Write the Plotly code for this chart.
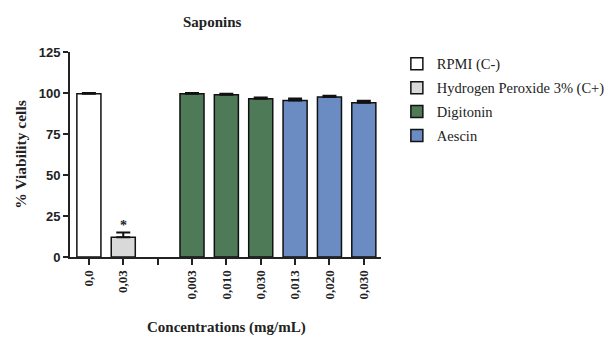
import plotly.graph_objects as go

positions = [0, 1, 2, 3, 4, 5, 6, 7, 8]
tick_labels = ["0,0", "0,03", "", "0,003", "0,010", "0,030", "0,013", "0,020", "0,030"]

series_names = ["RPMI (C-)", "Hydrogen Peroxide 3% (C+)", "Digitonin", "Aescin"]
series_x = [[0], [1], [3, 4, 5], [6, 7, 8]]
series_values = [[99.5], [12.0], [99.5, 99.0, 96.5], [95.5, 97.5, 94.0]]
series_errors = [[0.5], [3.0], [0.5, 0.5, 0.8], [1.2, 0.8, 1.2]]
series_colors = ["#ffffff", "#d9d9d9", "#4f7a57", "#6b8bc3"]

star_x = 1
star_y = 19

fig = go.Figure()
for i, (name, xs, ys, es, col) in enumerate(zip(series_names, series_x, series_values, series_errors, series_colors)):
    fig.add_trace(go.Bar(
        x=xs, y=ys, name=name, width=0.7, legendgroup="g%d" % i,
        marker=dict(color=col, line=dict(color="#111111", width=1.5)),
        error_y=dict(type="data", symmetric=False, array=es, arrayminus=[0] * len(es),
                     color="#111111", thickness=2, width=7),
    ))

fig.add_annotation(x=star_x, y=star_y, text="<b>*</b>", showarrow=False,
                   font=dict(family="Liberation Serif", size=14, color="#222"))

fig.add_annotation(xref="paper", yref="paper", x=0.457, y=1.0, xanchor="center", yanchor="middle",
                   yshift=30, text="<b>Saponins</b>",
                   showarrow=False, font=dict(family="Liberation Serif", size=15, color="#222"))
fig.add_annotation(xref="paper", yref="paper", x=0.503, y=0, xanchor="center", yanchor="middle",
                   yshift=-70, text="<b>Concentrations (mg/mL)</b>",
                   showarrow=False, font=dict(family="Liberation Serif", size=15, color="#222"))

fig.update_layout(
    width=613, height=342,
    margin=dict(l=62, r=240, t=44, b=93, autoexpand=False),
    paper_bgcolor="white", plot_bgcolor="white",
    barmode="overlay",
    showlegend=True,
    legend=dict(x=1.051, y=1.02, xanchor="left", yanchor="top",
                font=dict(family="Liberation Serif", size=14.5, color="#222"),
                itemwidth=30, tracegroupgap=2),
    xaxis=dict(
        range=[-0.55, 8.5], tickmode="array", tickvals=positions,
        ticktext=["<b>%s</b>" % t if t else "" for t in tick_labels],
        tickangle=-90, ticks="outside", ticklen=6, tickwidth=1.5, tickcolor="#222",
        showline=True, linecolor="#222", linewidth=2, showgrid=False, zeroline=False,
        automargin=False,
        tickfont=dict(family="Liberation Serif", size=13, color="#222"),
    ),
    yaxis=dict(
        range=[0, 125], tickvals=[0, 25, 50, 75, 100, 125],
        ticktext=["<b>0</b>", "<b>25</b>", "<b>50</b>", "<b>75</b>", "<b>100</b>", "<b>125</b>"],
        ticks="outside", ticklen=5, tickwidth=1.5, tickcolor="#222",
        showline=True, linecolor="#222", linewidth=2, showgrid=False, zeroline=False,
        automargin=False,
        tickfont=dict(family="Liberation Sans", size=13, color="#222"),
        title=dict(text="<b>% Viability cells</b>", standoff=8,
                   font=dict(family="Liberation Serif", size=15.5, color="#222")),
    ),
)

fig.write_html("out.html")
